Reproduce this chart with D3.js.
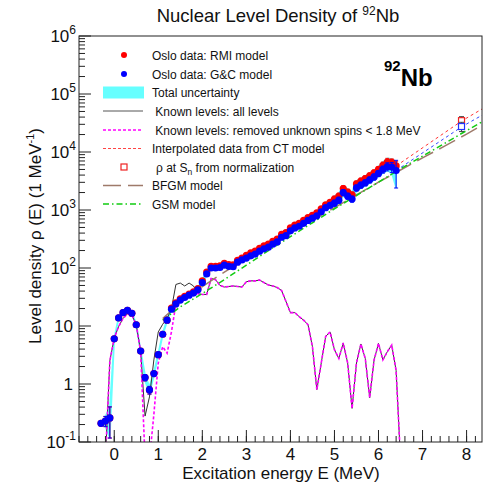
<!DOCTYPE html>
<html>
<head>
<meta charset="utf-8">
<script src="https://cdn.jsdelivr.net/npm/d3@7"></script>
<style>
  body { margin: 0; background: #fff; }
  svg { font-family: "Liberation Sans", Arial, sans-serif; }
</style>
</head>
<body>
<svg id="chart" width="492" height="486"></svg>
<script>
// Oslo level density of 92Nb.
const energy = [-0.3,-0.2,-0.1,0.0,0.1,0.2,0.3,0.4,0.5,0.6,0.7,0.8,0.9,1.0,1.1,1.2,1.3,1.4,1.5,1.6,
  1.7,1.8,1.9,2.0,2.1,2.2,2.3,2.4,2.5,2.6,2.7,2.8,2.9,3.0,3.1,3.2,3.3,3.4,3.5,3.6,
  3.7,3.8,3.9,4.0,4.1,4.2,4.3,4.4,4.5,4.6,4.7,4.8,4.9,5.0,5.1,5.2,5.3,5.4,5.5,5.6,
  5.7,5.8,5.9,6.0,6.1,6.2,6.3,6.4];

const rhoGC = [0.21,0.23,0.26,6.0,13.8,17.0,18.6,16.6,10.5,3.7,1.29,0.79,1.51,3.2,7.2,12.6,19.5,24,28,31,
  34,37,42,56,79,100,100,102,112,107,105,126,138,148,162,174,195,214,229,257,
  282,339,363,437,490,525,589,661,724,794,933,1096,1202,1318,1479,1995,1738,1549,2399,2692,
  2951,3311,3715,4266,5012,5620,5500,4790];

const rhoRMI = [0.21,0.23,0.26,6.0,13.8,17.0,18.6,16.6,10.5,3.7,1.29,0.79,1.51,3.2,7.2,12.6,20.4,25.1,29.3,32.5,
  35.6,38.7,44,60,85,107,107,109,120,115,113,135,148,166,182,195,219,240,257,288,
  316,380,407,490,550,589,661,742,812,891,1047,1230,1349,1549,1738,2344,2042,1820,2819,3163,
  3467,3890,4365,5012,5889,6700,6600,5750];

// relative uncertainties
const errGC = [0.05,0.2,0.55,0.04,0.04,0.04,0.04,0.04,0.04,0.04,0.12,0.15,0.08,
  0.05,0.05,0.05,0.05,0.05,0.05,0.05,0.05,0.05,0.05,0.05,0.05,0.05,0.05,0.05,0.05,0.05,0.05,0.05,0.05,
  0.08,0.08,0.08,0.08,0.08,0.08,0.08,0.08,0.08,0.08,0.08,0.08,0.08,0.08,0.08,0.08,0.08,0.08,0.08,0.08,
  0.12,0.12,0.12,0.12,0.12,0.12,0.12,0.12,0.12,0.12,0.12,0.14,0.16,0.2,0.5];
const errRMI = [0.05,0.2,0.55,0.04,0.04,0.04,0.04,0.04,0.04,0.04,0.12,0.15,0.08,
  0.05,0.05,0.05,0.05,0.05,0.05,0.05,0.05,0.05,0.05,0.05,0.05,0.05,0.05,0.05,0.05,0.05,0.05,0.05,0.05,
  0.08,0.08,0.08,0.08,0.08,0.08,0.08,0.08,0.08,0.08,0.08,0.08,0.08,0.08,0.08,0.08,0.08,0.08,0.08,0.08,
  0.12,0.12,0.12,0.12,0.12,0.12,0.12,0.12,0.12,0.12,0.12,0.14,0.16,0.15,0.18];

// known discrete levels (values below 0.1 fall off the axis)
const levE = [-0.2,-0.1,0.0,0.1,0.2,0.3,0.4,0.5,0.6,0.7,0.8,0.9,1.0,1.1,1.2,1.3,1.4,1.5,1.6,1.7,
  1.8,1.9,2.0,2.1,2.2,2.3,2.4,2.5,2.6,2.7,2.8,2.9,3.0,3.1,3.2,3.3,3.4,3.5,3.6,3.7,
  3.8,4.0,4.1,4.2,4.3,4.4,4.5,4.6,4.8,4.9,5.0,5.1,5.2,5.3,5.4,5.5,5.6,5.7,5.8,5.9,
  6.0,6.1,6.2,6.3,6.4,6.5];
const levAll = [0.05,2.5,6.2,9.8,13.5,16.2,15.5,10.5,3.6,0.28,0.6,2.6,7.9,10.7,13.5,20,52,55,49,55,
  49,36,35,35,66,63,50,47,48,49,48,47,58,60,60,62,56,51,49,46,
  41,17,17,14.5,12.6,10.5,4.4,0.8,6.6,7.9,3.9,2.75,5.1,2.3,0.38,2.3,4.9,2.75,0.58,2.6,
  5.0,2.6,3.6,4.7,1.7,0.05];
const levRemoved = [0.05,2.5,6.2,9.8,13.5,16.2,15.5,10.5,3.6,0.05,0.05,0.3,2.3,4.4,3.4,8,24,28,31,34,
  37,36,35,35,66,63,50,47,48,49,48,47,58,60,60,62,56,51,49,46,
  41,17,17,14.5,12.6,10.5,4.4,0.8,6.6,7.9,3.9,2.75,5.1,2.3,0.38,2.3,4.9,2.75,0.58,2.6,
  5.0,2.6,3.6,4.7,1.7,0.05];

// model curves
const modelE = [1.1,1.5,2.0,2.5,3.0,3.5,4.0,4.5,5.0,5.5,6.0,6.5,7.0,7.5,8.0,8.35];
const bfgm = [13.5,25.1,47.9,85.1,145,240,398,661,1096,1820,3020,4900,7940,12600,20400,28800];
const gsm = [12.6,21.4,36.3,63.1,112,200,347,603,1047,1778,3020,5130,8510,14100,23400,33100];

// CT interpolation up to Sn
const ctE = [6.4,7.9,8.35];
const ctRMI = [5750,34700,55000];
const ctGC = [4790,27500,43000];
const snE = 7.885;
const rhoSn = [34700,27500];
const rhoSnErr = [6000,5000];

const legendLabels = ["Oslo data: RMI model","Oslo data: G&C model","Total uncertainty",
  " Known levels: all levels"," Known levels: removed unknown spins < 1.8 MeV",
  "Interpolated data from CT model","\u03c1 at S","BFGM model","GSM model"];

const svg = d3.select('#chart');
const L = 79, R = 482, T = 36, B = 442;
const x = d3.scaleLinear().domain([-0.8, 8.35]).range([L, R]);
const y = d3.scaleLog().domain([0.1, 1e6]).range([B, T]);
const yc = v => y(Math.max(v, 1e-4));

svg.append('clipPath').attr('id', 'clip')
  .append('rect').attr('x', L).attr('y', T).attr('width', R - L).attr('height', B - T);
const plot = svg.append('g').attr('clip-path', 'url(#clip)');

// total uncertainty band
const band = energy.map((e, i) => ({ e, lo: rhoGC[i] * (1 - errGC[i]), hi: rhoRMI[i] * (1 + errRMI[i]) }));
plot.append('path')
  .attr('d', d3.area().x(d => x(d.e)).y0(d => yc(d.lo)).y1(d => yc(d.hi))(band))
  .attr('fill', '#66ffff').attr('stroke', '#66ffff').attr('stroke-width', 1.5);

const line = d3.line().x(d => x(d[0])).y(d => yc(d[1]));
const pairs = (xs, ys) => xs.map((v, i) => [v, ys[i]]);

plot.append('path').attr('d', line(pairs(levE, levAll)))
  .attr('fill', 'none').attr('stroke', '#333').attr('stroke-width', 1);
plot.append('path').attr('d', line(pairs(levE, levRemoved)))
  .attr('fill', 'none').attr('stroke', '#ff00ff').attr('stroke-width', 1.6).attr('stroke-dasharray', '3,2');

plot.append('path').attr('d', line(pairs(modelE, bfgm)))
  .attr('fill', 'none').attr('stroke', '#9e7a6a').attr('stroke-width', 1.5).attr('stroke-dasharray', '18,7');
plot.append('path').attr('d', line(pairs(modelE, gsm)))
  .attr('fill', 'none').attr('stroke', '#11cc11').attr('stroke-width', 1.5).attr('stroke-dasharray', '6,3,1.5,3');

plot.append('path').attr('d', line(pairs(ctE, ctRMI)))
  .attr('fill', 'none').attr('stroke', '#ff3333').attr('stroke-width', 1).attr('stroke-dasharray', '3,3');
plot.append('path').attr('d', line(pairs(ctE, ctGC)))
  .attr('fill', 'none').attr('stroke', '#3344ff').attr('stroke-width', 1).attr('stroke-dasharray', '3,3');

// rho at Sn
const snColors = ['#ee2222', '#2233ff'];
rhoSn.forEach((v, i) => {
  const g = plot.append('g');
  g.append('line').attr('x1', x(snE)).attr('x2', x(snE))
    .attr('y1', y(v + rhoSnErr[i])).attr('y2', y(v - rhoSnErr[i])).attr('stroke', '#444');
  [v + rhoSnErr[i], v - rhoSnErr[i]].forEach(c => g.append('line')
    .attr('x1', x(snE) - 2.5).attr('x2', x(snE) + 2.5).attr('y1', y(c)).attr('y2', y(c)).attr('stroke', '#444'));
  g.append('rect').attr('x', x(snE) - 3).attr('y', y(v) - 3).attr('width', 6).attr('height', 6)
    .attr('fill', '#fff').attr('stroke', snColors[i]).attr('stroke-width', 1.2);
});

// data points with error bars
function drawData(vals, errs, color) {
  const g = plot.append('g');
  energy.forEach((e, i) => {
    const hi = vals[i] * (1 + errs[i]), lo = vals[i] * (1 - errs[i]);
    g.append('line').attr('x1', x(e)).attr('x2', x(e)).attr('y1', yc(hi)).attr('y2', yc(lo))
      .attr('stroke', color).attr('stroke-width', 1);
    [hi, lo].forEach(c => g.append('line').attr('x1', x(e) - 2).attr('x2', x(e) + 2)
      .attr('y1', yc(c)).attr('y2', yc(c)).attr('stroke', color).attr('stroke-width', 1));
  });
  g.selectAll('circle').data(energy).enter().append('circle')
    .attr('cx', d => x(d)).attr('cy', (d, i) => yc(vals[i])).attr('r', 3.6).attr('fill', color);
}
drawData(rhoRMI, errRMI, '#ff0000');
drawData(rhoGC, errGC, '#0000ff');

// frame
svg.append('rect').attr('x', L).attr('y', T).attr('width', R - L).attr('height', B - T)
  .attr('fill', 'none').attr('stroke', '#222').attr('stroke-width', 1);

// x axis ticks (inward)
const xMajor = [0, 1, 2, 3, 4, 5, 6, 7, 8];
const xMinor = d3.range(-0.8, 8.35, 0.2);
svg.append('g').selectAll('line').data(xMinor).enter().append('line')
  .attr('x1', d => x(d)).attr('x2', d => x(d)).attr('y1', B).attr('y2', B - 6).attr('stroke', '#222');
svg.append('g').selectAll('line').data(xMajor).enter().append('line')
  .attr('x1', d => x(d)).attr('x2', d => x(d)).attr('y1', B).attr('y2', B - 12).attr('stroke', '#222');
svg.append('g').selectAll('text').data(xMajor).enter().append('text')
  .attr('x', d => x(d)).attr('y', B + 18).attr('text-anchor', 'middle')
  .attr('font-size', 17).attr('fill', '#111').text(d => d);

// y axis ticks (log, inward)
const yExp = [-1, 0, 1, 2, 3, 4, 5, 6];
const yMinor = [];
yExp.slice(0, -1).forEach(k => d3.range(2, 10).forEach(m => yMinor.push(m * Math.pow(10, k))));
svg.append('g').selectAll('line').data(yMinor).enter().append('line')
  .attr('x1', L).attr('x2', L + 6).attr('y1', d => y(d)).attr('y2', d => y(d)).attr('stroke', '#222');
svg.append('g').selectAll('line').data(yExp).enter().append('line')
  .attr('x1', L).attr('x2', L + 12).attr('y1', d => y(Math.pow(10, d))).attr('y2', d => y(Math.pow(10, d)))
  .attr('stroke', '#222');
yExp.forEach(k => {
  const t = svg.append('text').attr('text-anchor', 'end').attr('font-size', 17).attr('fill', '#111')
    .attr('y', y(Math.pow(10, k)) + 6);
  if (k === 0) t.attr('x', 73).text('1');
  else if (k === 1) t.attr('x', 73).text('10');
  else {
    t.attr('x', 76);
    t.append('tspan').text('10');
    t.append('tspan').attr('font-size', 12).attr('dy', -8).text(k);
  }
});

// titles
const title = svg.append('text').attr('x', 278).attr('y', 22).attr('text-anchor', 'middle')
  .attr('font-size', 18.5).attr('fill', '#111');
title.append('tspan').text('Nuclear Level Density of ');
title.append('tspan').attr('font-size', 12).attr('dy', -7).text('92');
title.append('tspan').attr('dy', 7).text('Nb');

svg.append('text').attr('x', 281).attr('y', 479).attr('text-anchor', 'middle')
  .attr('font-size', 17).attr('fill', '#111').text('Excitation energy E (MeV)');

const yl = svg.append('text').attr('transform', 'translate(41,236) rotate(-90)')
  .attr('text-anchor', 'middle').attr('font-size', 17).attr('fill', '#111');
yl.append('tspan').text('Level density \u03c1 (E) (1 MeV');
yl.append('tspan').attr('font-size', 11).attr('dy', -7).text('-1');
yl.append('tspan').attr('dy', 7).text(')');

const nuc = svg.append('text').attr('x', 384).attr('y', 86).attr('font-weight', 'bold').attr('fill', '#000');
nuc.append('tspan').attr('font-size', 15).attr('dy', -15).text('92');
nuc.append('tspan').attr('font-size', 24).attr('dy', 15).text('Nb');

// legend
const legY = [55, 74, 92.5, 111, 130, 148.5, 167, 185.5, 204];
const leg = svg.append('g').attr('font-size', 12).attr('fill', '#111');
legendLabels.forEach((lab, i) => {
  const cy = legY[i];
  const t = leg.append('text').attr('x', 152).attr('y', cy + 4.5).attr('xml:space', 'preserve').text(lab);
  if (i === 6) {
    t.attr('x', 156);
    t.append('tspan').attr('font-size', 8.5).attr('dy', 3.5).text('n');
    t.append('tspan').attr('dy', -3.5).text(' from normalization');
  }
});
leg.append('circle').attr('cx', 124).attr('cy', legY[0]).attr('r', 3).attr('fill', '#ff0000');
leg.append('circle').attr('cx', 124).attr('cy', legY[1]).attr('r', 3).attr('fill', '#0000ff');
leg.append('rect').attr('x', 103).attr('y', legY[2] - 6).attr('width', 41).attr('height', 12).attr('fill', '#66ffff');
const sample = (cy, color, w, dash) => leg.append('line').attr('x1', 103).attr('x2', 143)
  .attr('y1', cy).attr('y2', cy).attr('stroke', color).attr('stroke-width', w).attr('stroke-dasharray', dash);
sample(legY[3], '#555', 1, null);
sample(legY[4], '#ff00ff', 1.3, '3,2');
sample(legY[5], '#ff4444', 1, '3,2');
leg.append('rect').attr('x', 121).attr('y', legY[6] - 3).attr('width', 6).attr('height', 6)
  .attr('fill', '#fff').attr('stroke', '#ee2222').attr('stroke-width', 1.2);
sample(legY[7], '#9e7a6a', 1.5, '18,7');
sample(legY[8], '#11cc11', 1.5, '6,3,1.5,3');
</script>
</body>
</html>
